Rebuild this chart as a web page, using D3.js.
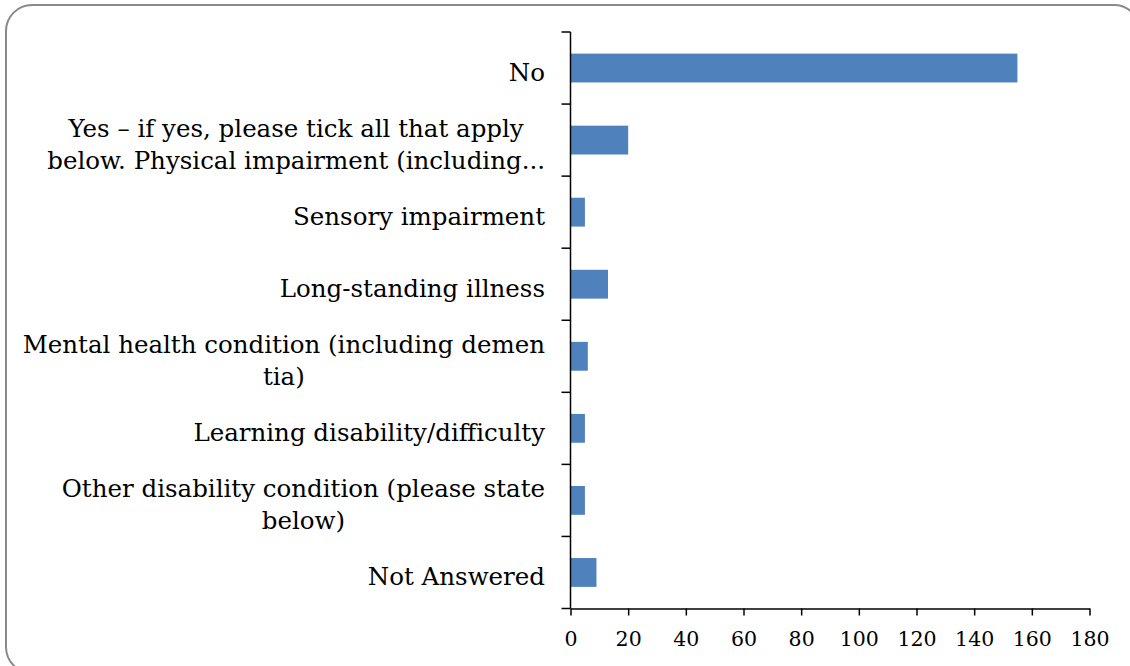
<!DOCTYPE html>
<html>
<head>
<meta charset="utf-8">
<script src="https://cdn.jsdelivr.net/npm/d3@7"></script>
<style>
  html, body { margin: 0; padding: 0; background: #fff; }
  svg { display: block; }
</style>
</head>
<body>
<svg id="chart" width="1130" height="666"></svg>
<script>
// ---- data ----
const categories = [
  "No",
  "Yes – if yes, please tick all that apply below. Physical impairment (including...",
  "Sensory impairment",
  "Long-standing illness",
  "Mental health condition (including dementia)",
  "Learning disability/difficulty",
  "Other disability condition (please state below)",
  "Not Answered"
];
const categoryLines = [
  ["No"],
  ["Yes – if yes, please tick all that apply", "below. Physical impairment (including..."],
  ["Sensory impairment"],
  ["Long-standing illness"],
  ["Mental health condition (including demen", "tia)"],
  ["Learning disability/difficulty"],
  ["Other disability condition (please state", "below)"],
  ["Not Answered"]
];
const values = [155, 20, 5, 13, 6, 5, 5, 9];
const xTicks = [0, 20, 40, 60, 80, 100, 120, 140, 160, 180];

// ---- layout ----
const svg = d3.select("#chart");
const plotLeft = 570.5, plotRight = 1089.5, plotTop = 32, plotBottom = 608.5;
const labelFont = "'DejaVu Serif', serif";
const labelRight = 545;

svg.append("rect")
  .attr("x", 6).attr("y", 5)
  .attr("width", 1134).attr("height", 668)
  .attr("rx", 26).attr("ry", 26)
  .attr("fill", "#fff")
  .attr("stroke", "#898989")
  .attr("stroke-width", 2);

const x = d3.scaleLinear().domain([0, 180]).range([plotLeft, plotRight]);
const y = d3.scaleBand().domain(categories).range([plotTop, plotBottom])
  .paddingInner(0.6).paddingOuter(0.3);

// bars
svg.append("g").selectAll("rect")
  .data(categories)
  .join("rect")
  .attr("x", x(0))
  .attr("y", d => y(d))
  .attr("width", (d, i) => x(values[i]) - x(0))
  .attr("height", y.bandwidth())
  .attr("fill", "#4F81BD");

// left axis (ticks at category boundaries)
const step = y.step();
const boundaries = d3.range(categories.length + 1).map(i => plotTop + i * step);
const gl = svg.append("g").attr("stroke", "#000").attr("stroke-width", 1.5);
gl.append("line").attr("x1", plotLeft).attr("x2", plotLeft).attr("y1", plotTop).attr("y2", plotBottom);
gl.selectAll("line.t").data(boundaries).join("line").attr("class", "t")
  .attr("x1", plotLeft - 9).attr("x2", plotLeft).attr("y1", d => d).attr("y2", d => d);

// bottom axis
const gx = svg.append("g").attr("transform", `translate(0,${plotBottom})`)
  .call(d3.axisBottom(x).tickValues(xTicks).tickSize(7).tickSizeOuter(0));
gx.select(".domain").attr("stroke", "#000").attr("stroke-width", 1.5);
gx.selectAll(".tick line").attr("stroke", "#000").attr("stroke-width", 1.5);
gx.selectAll(".tick text")
  .attr("y", 37).attr("dy", 0)
  .attr("font-family", labelFont).attr("font-size", 20.5).attr("fill", "#000");

// category labels
const lineH = 32;
const lbl = svg.append("g")
  .attr("font-family", labelFont).attr("font-size", 24.5)
  .attr("fill", "#000").attr("text-anchor", "end");
categories.forEach((c, i) => {
  const lines = categoryLines[i];
  const cy = y(c) + y.bandwidth() / 2;
  const n = lines.length;
  const t = lbl.append("text");
  lines.forEach((ln, j) => {
    t.append("tspan")
      .attr("x", labelRight)
      .attr("y", cy + 13 + (j - (n - 1) / 2) * lineH)
      .text(ln);
  });
});
// multi-line labels: lines centred on each other, block right-aligned
lbl.selectAll("text").each(function() {
  const spans = d3.select(this).selectAll("tspan").nodes();
  if (spans.length > 1) {
    const widths = spans.map(s => s.getComputedTextLength());
    const maxW = d3.max(widths);
    spans.forEach((s, k) => d3.select(s).attr("x", labelRight - (maxW - widths[k]) / 2));
  }
});
</script>
</body>
</html>
